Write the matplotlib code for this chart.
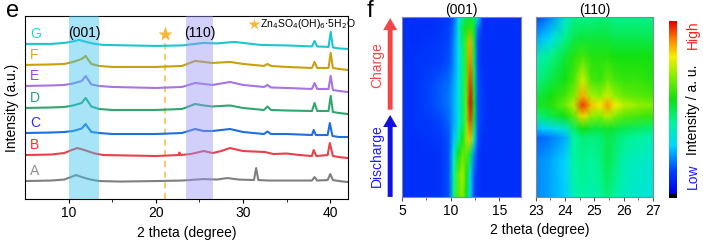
import numpy as np
import matplotlib.pyplot as plt
from matplotlib.colors import LinearSegmentedColormap
from matplotlib.patches import FancyArrow

plt.rcParams['font.family'] = ['Liberation Sans', 'DejaVu Sans']
plt.rcParams['font.size'] = 10

# ---- panel e : XRD patterns (offset in a.u.) ----
names = ['A', 'B', 'C', 'D', 'E', 'F', 'G']
offsets = [18, 44, 66, 91, 113, 134, 155]
line_colors = ['#7f7f7f', '#e8414a', '#1f6fe0', '#2fa66e', '#a874e4', '#c9a10a', '#1cc6d0']
label_colors = ['#8f8f8f', '#ff2a2a', '#2a2aff', '#2a9d8f', '#a040f0', '#d9a520', '#10e0e0']

xA = [5, 8, 9.5, 10.4, 10.85, 11.5, 12.5, 13.5, 16, 20, 23, 25.5, 27, 28.2, 29.5, 31.25, 31.5, 31.75,
      33, 35, 37.9, 38.2, 38.5, 39.7, 40.0, 40.3, 41, 42]
yA = [0, 0.5, 1.5, 4.5, 6, 4, 1.5, 0, -0.5, 0, 0.5, 2, 1.5, 3, 1.5, 1, 13, 1,
      0.5, 0.5, 0.5, 4, 0.5, 1, 7, 1, 0, -1]

xB = [5, 8, 9.5, 10.5, 11.0, 11.8, 13, 14, 17, 20, 22.6, 22.7, 22.8, 24, 25.5, 26.5, 27.5, 28.5, 30,
      32.5, 33.5, 35, 36.5, 37.9, 38.1, 38.4, 39.7, 39.95, 40.3, 41, 42]
yB = [0, 0.5, 2, 5.5, 7, 5, 1.5, 0, -0.5, -1, 0, 2.5, 0, 1, 4, 2, 4, 7, 4,
      3, 1, 1.5, 0, -1, 5, -1, 0, 12, -1, -2, -3]

xC = [5, 8, 9.5, 10.5, 11.5, 11.95, 12.1, 12.6, 13.5, 15, 20, 23, 24.5, 25.5, 26.5, 28.5, 30,
      32.4, 32.8, 33.2, 35, 37.9, 38.1, 38.35, 39.7, 39.95, 40.25, 41, 42]
yC = [0, 0.5, 1, 2, 4.5, 9, 7, 1, 0, -1, -1, 0, 4, 2, 2, 4, 1,
      -1, 1.5, -1, -1, -2, 3, -2, -2, 10, -3, -4, -4]

xD = [5, 8, 9.5, 10.5, 11.5, 11.95, 12.1, 12.6, 13.5, 15, 20, 23, 24.5, 25.5, 26.5, 28.5, 30,
      32.4, 32.8, 33.2, 35, 37.9, 38.2, 38.5, 39.8, 40.05, 40.3, 41, 42]
yD = [0, 0.5, 1, 2.5, 5, 10, 8, 1.5, -1, -2, -2, -1, 4, 2.5, 1.5, 2.5, 0,
      -2, 1.5, -2, -2.5, -3, 5, -3, -3, 12, -4, -5, -6]

xE = [5, 8, 9.5, 10.5, 11.5, 11.95, 12.1, 12.6, 13.5, 15, 20, 23, 24.5, 25.5, 26.5, 28.5, 30,
      32.4, 32.8, 33.2, 35, 37.9, 38.2, 38.5, 39.8, 40.05, 40.3, 41, 42]
yE = [0, 0.5, 1, 2.5, 5, 10, 8, 1.5, 0, -1, -2, -1, 3, 2, 1, 4, 1,
      -1, 1, -1.5, -2, -3, 3, -3, -3, 10, -4, -5, -6]

xF = [5, 8, 9.5, 10.5, 11.5, 11.95, 12.1, 12.6, 13.5, 15, 20, 23, 24.5, 25.5, 26.5, 28.5, 30,
      32.4, 32.8, 33.2, 35, 37.9, 38.2, 38.5, 39.8, 40.05, 40.3, 41, 42]
yF = [0, 0.5, 1, 3, 6, 9, 7, 1, -1, -2, -2, -1, 4, 3, 2, 3, 1,
      -1, 1, -1, -2, -3, 3, -3, -3, 12, -3, -4, -5]

xG = [5, 8, 9.5, 10.5, 11.2, 12, 13, 14, 17, 20, 23, 25.5, 27, 29, 31, 32, 35, 37.9, 38.2, 38.5,
      39.8, 40.05, 40.3, 41, 42]
yG = [0, 0, 1, 2.5, 4, 2, 0, -1, -1.5, -2, -1.5, 1, 0.5, 2, 0, -1, -1.5, -2.5, 3, -2.5,
      -3, 12, -3.5, -4.5, -5]

patterns_x = [xA, xB, xC, xD, xE, xF, xG]
patterns_y = [yA, yB, yC, yD, yE, yF, yG]

# ---- panel f : contour maps (0..1) ----
t_001 = [0.0, 0.12, 0.24, 0.32, 0.42, 0.52, 0.62, 0.74, 0.86, 0.94, 1.0]
x_001 = [5, 6.5, 8, 9, 9.8, 10.3, 10.8, 11.2, 11.6, 12.0, 12.4, 12.8, 13.3, 14, 15.5, 17.2]
z_001 = [
    [.12, .12, .12, .13, .17, .45, .64, .68, .55, .30, .16, .13, .12, .12, .12, .12],
    [.12, .12, .12, .13, .17, .42, .66, .72, .58, .32, .17, .13, .12, .12, .12, .12],
    [.12, .12, .12, .13, .17, .36, .56, .64, .64, .50, .22, .14, .12, .12, .12, .12],
    [.12, .12, .13, .14, .17, .28, .44, .54, .70, .84, .40, .16, .12, .12, .12, .12],
    [.12, .13, .14, .16, .19, .25, .35, .46, .66, .94, .50, .17, .13, .12, .12, .12],
    [.12, .13, .16, .18, .21, .26, .35, .46, .66, 1.0, .55, .17, .13, .12, .12, .12],
    [.12, .13, .16, .18, .20, .25, .34, .45, .64, .96, .50, .17, .13, .12, .12, .12],
    [.12, .13, .14, .15, .17, .23, .33, .44, .62, .90, .48, .16, .12, .12, .12, .12],
    [.12, .12, .13, .14, .16, .22, .34, .46, .64, .86, .50, .16, .12, .12, .12, .12],
    [.12, .12, .12, .13, .15, .20, .36, .50, .58, .60, .52, .20, .12, .12, .12, .12],
    [.12, .12, .12, .13, .14, .18, .34, .44, .50, .50, .48, .30, .12, .12, .12, .12],
]

t_110 = [0.0, 0.2, 0.33, 0.38, 0.45, 0.51, 0.56, 0.65, 0.78, 0.88, 1.0]
x_110 = [23, 23.5, 24, 24.3, 24.6, 24.9, 25.2, 25.45, 25.7, 26, 26.5, 27]
z_110 = [
    [.22, .25, .29, .40, .42, .40, .42, .46, .42, .38, .36, .34],
    [.22, .25, .30, .42, .44, .42, .45, .50, .46, .40, .38, .36],
    [.18, .21, .26, .42, .46, .45, .46, .50, .48, .44, .42, .40],
    [.28, .31, .36, .48, .56, .52, .52, .54, .52, .50, .48, .46],
    [.45, .50, .56, .65, .82, .70, .68, .74, .68, .64, .62, .60],
    [.52, .58, .66, .74, .96, .84, .80, .88, .80, .74, .70, .68],
    [.50, .56, .62, .68, .86, .72, .70, .76, .70, .66, .64, .62],
    [.44, .50, .56, .62, .76, .62, .60, .66, .62, .60, .60, .58],
    [.38, .44, .52, .58, .62, .58, .58, .58, .56, .56, .56, .56],
    [.25, .32, .44, .50, .52, .52, .52, .52, .50, .50, .50, .50],
    [.15, .22, .35, .44, .44, .44, .46, .46, .44, .44, .44, .44],
]

cmap = LinearSegmentedColormap.from_list('origin_rainbow', [
    (0.0, '#000000'), (0.02, '#000000'), (0.025, '#0000e6'), (0.15, '#0040ff'),
    (0.3, '#00d8ff'), (0.42, '#00f5a0'), (0.56, '#10e010'), (0.7, '#90f000'),
    (0.8, '#f5f000'), (0.9, '#ff8000'), (1.0, '#e00000')])

fig = plt.figure(figsize=(7.03, 2.41), dpi=100)

# ---------------- panel e ----------------
ax = fig.add_axes([0.0356, 0.174, 0.459, 0.760])
for i in range(len(names)):
    yy = np.array(patterns_y[i]) + offsets[i]
    ax.plot(patterns_x[i], yy, color=line_colors[i], lw=1.5, zorder=2)
    ax.text(5.6, offsets[i] + 3, names[i], color=label_colors[i], fontsize=10,
            ha='left', va='bottom')
ax.axvspan(10, 13.5, color='#3cc4f0', alpha=0.45, lw=0, zorder=3)
ax.axvspan(23.5, 26.5, color='#9797f4', alpha=0.45, lw=0, zorder=3)
ax.plot([21, 21], [0, 158], color='#f5b942', lw=1.1, ls=(0, (4, 3)), zorder=1)
ax.plot([21], [165], marker='*', ms=11, color='#f7b733', mec='none', zorder=4)
ax.text(11.8, 166, '(001)', ha='center', va='center', fontsize=10, zorder=5)
ax.text(25.0, 166, '(110)', ha='center', va='center', fontsize=10, zorder=5)
ax.plot([31.2], [175], marker='*', ms=9, color='#f7b733', mec='none')
ax.text(31.9, 175, r'Zn$_4$SO$_4$(OH)$_6$$\cdot$5H$_2$O', ha='left', va='center', fontsize=7.5)
ax.set_xlim(5, 42)
ax.set_ylim(0, 183)
ax.set_yticks([])
ax.set_xticks([10, 20, 30, 40])
ax.set_xticks([15, 25, 35], minor=True)
ax.tick_params(axis='x', direction='out', length=3, labelsize=10, pad=2)
ax.tick_params(axis='x', which='minor', direction='out', length=2)
ax.set_xlabel('2 theta (degree)', fontsize=10, labelpad=4)
ax.set_ylabel('Intensity (a.u.)', fontsize=10, labelpad=4)
fig.text(0.008, 0.955, 'e', fontsize=17, va='center', ha='left')

# ---------------- panel f ----------------
ax1 = fig.add_axes([0.572, 0.183, 0.169, 0.747])
ax1.pcolormesh(x_001, t_001, np.array(z_001), cmap=cmap, vmin=0, vmax=1, shading='gouraud')
ax1.set_xlim(5, 17.2)
ax1.set_ylim(0, 1)
ax1.set_xticks([5, 10, 15])
ax1.set_xticks([7.5, 12.5], minor=True)
ax1.set_yticks([])
ax1.set_title('(001)', fontsize=10, pad=2)

ax2 = fig.add_axes([0.762, 0.183, 0.167, 0.747])
mesh = ax2.pcolormesh(x_110, t_110, np.array(z_110), cmap=cmap, vmin=0, vmax=1, shading='gouraud')
ax2.set_xlim(23, 27)
ax2.set_ylim(0, 1)
ax2.set_xticks([23, 24, 25, 26, 27])
ax2.set_xticks([23.5, 24.5, 25.5, 26.5], minor=True)
ax2.set_yticks([])
ax2.set_title('(110)', fontsize=10, pad=2)

for a in (ax1, ax2):
    a.tick_params(axis='x', direction='out', length=3, labelsize=10, pad=2, color='#555555')
    a.tick_params(axis='x', which='minor', direction='out', length=2, color='#555555')
    for s in a.spines.values():
        s.set_color('#888888')
        s.set_linewidth(0.8)

cax = fig.add_axes([0.952, 0.178, 0.0114, 0.734])
cb = fig.colorbar(mesh, cax=cax)
cb.set_ticks([])
cb.outline.set_visible(False)
fig.text(0.986, 0.27, 'Low', color='#1a1aff', rotation=90, ha='center', va='center', fontsize=10)
fig.text(0.986, 0.545, 'Intensity / a. u.', color='black', rotation=90, ha='center', va='center', fontsize=10)
fig.text(0.986, 0.855, 'High', color='#ff2020', rotation=90, ha='center', va='center', fontsize=10)

fig.text(0.768, 0.046, '2 theta (degree)', ha='center', va='center', fontsize=10)
fig.text(0.522, 0.955, 'f', fontsize=17, va='center', ha='left')

fig.patches.append(FancyArrow(
    0.555, 0.545, 0, 0.33, width=0.007, head_width=0.02, head_length=0.05,
    color='#f04848', transform=fig.transFigure, lw=0))
fig.patches.append(FancyArrow(
    0.555, 0.183, 0, 0.29, width=0.007, head_width=0.02, head_length=0.05,
    color='#1010e0', transform=fig.transFigure, lw=0))
fig.text(0.536, 0.73, 'Charge', color='#f04848', rotation=90, ha='center', va='center', fontsize=10)
fig.text(0.536, 0.355, 'Discharge', color='#1a1aff', rotation=90, ha='center', va='center', fontsize=10)

plt.savefig('out.png', dpi=100)
